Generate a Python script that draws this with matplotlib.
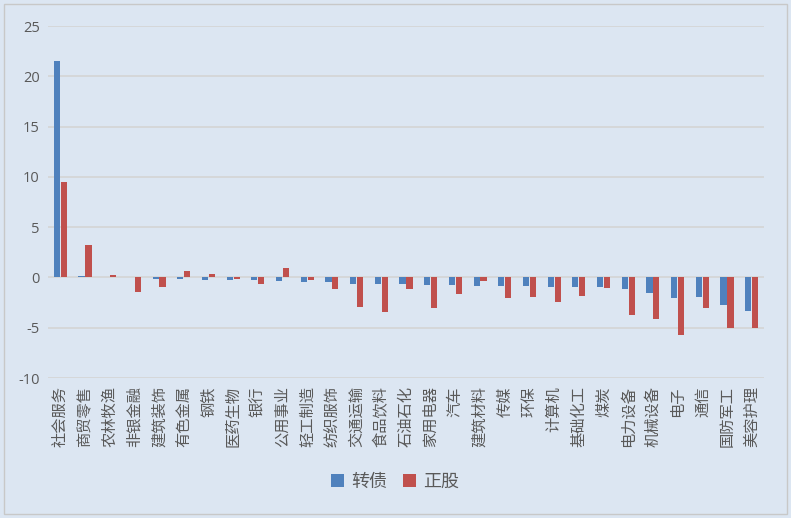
import matplotlib
matplotlib.use("Agg")
import matplotlib.pyplot as plt
import numpy as np
from matplotlib.patches import Rectangle

plt.rcParams["font.family"] = ["Noto Sans CJK SC", "DejaVu Sans"]

industries = [
    "社会服务", "商贸零售", "农林牧渔", "非银金融", "建筑装饰", "有色金属", "钢铁",
    "医药生物", "银行", "公用事业", "轻工制造", "纺织服饰", "交通运输", "食品饮料",
    "石油石化", "家用电器", "汽车", "建筑材料", "传媒", "环保", "计算机",
    "基础化工", "煤炭", "电力设备", "机械设备", "电子", "通信", "国防军工", "美容护理",
]
convert_bond = [
    21.5, 0.1, 0.05, 0.0, -0.15, -0.2, -0.3, -0.3, -0.3, -0.4, -0.45, -0.5, -0.7,
    -0.7, -0.7, -0.8, -0.8, -0.85, -0.9, -0.9, -0.95, -1.0, -1.0, -1.15, -1.5,
    -2.0, -1.95, -2.75, -3.3,
]
stock = [
    9.45, 3.2, 0.25, -1.4, -1.0, 0.6, 0.3, -0.2, -0.7, 0.9, -0.3, -1.15, -2.95,
    -3.4, -1.2, -3.0, -1.6, -0.35, -2.0, -1.95, -2.4, -1.85, -1.1, -3.7, -4.1,
    -5.7, -3.05, -5.0, -5.05,
]
yticks = [-10, -5, 0, 5, 10, 15, 20, 25]

bg = "#DCE6F2"
txt = "#595959"

fig = plt.figure(figsize=(7.91, 5.18), dpi=100, facecolor=bg)
ax = fig.add_axes([48 / 791, 1 - 378 / 518, (764 - 48) / 791, (378 - 26) / 518])
ax.set_facecolor(bg)

x = np.arange(len(industries))
w = 0.25
ax.bar(x - 0.14, convert_bond, w, color="#4F81BD", label="转债", zorder=3)
ax.bar(x + 0.14, stock, w, color="#C0504D", label="正股", zorder=3)

ax.set_xlim(-0.5, len(industries) - 0.5)
ax.set_ylim(-10, 25)
ax.set_yticks(yticks)
ax.set_yticklabels([str(v) for v in yticks], color=txt, fontsize=10.5,
                   family=["Open Sans", "DejaVu Sans"])
ax.set_xticks(x)
ax.set_xticklabels(industries, rotation=90, color=txt, fontsize=11, va="top")
ax.tick_params(axis="x", length=0, pad=6)
ax.tick_params(axis="y", length=0, pad=6)
ax.grid(axis="y", color="#D4D4D4", linewidth=1.2, zorder=0)
for s in ax.spines.values():
    s.set_visible(False)

leg = fig.legend(loc="center", bbox_to_anchor=(395 / 791, 1 - 482 / 518), ncol=2,
                 frameon=False, fontsize=13, handlelength=0.7, handleheight=0.7,
                 handletextpad=0.4, columnspacing=0.9)
for t in leg.get_texts():
    t.set_color(txt)

fig.patches.append(Rectangle((4 / 791, 4 / 518), 783 / 791, 510 / 518,
                             transform=fig.transFigure, fill=False,
                             edgecolor="#C8C8C8", linewidth=1))

fig.savefig("out.png", dpi=100, facecolor=bg)
